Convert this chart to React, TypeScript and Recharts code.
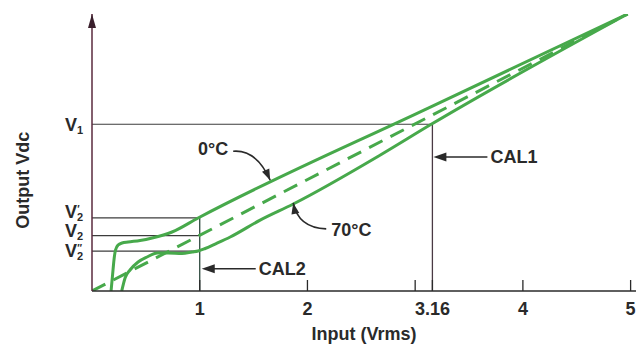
import React from 'react'
import { LineChart, Line, XAxis, YAxis, ReferenceLine, ReferenceDot } from 'recharts'

// input (Vrms) ticks along the bottom
const xTicks = [1, 2, 3, 3.16, 4, 5]
const xTickLabels = ['1', '2', '', '3.16', '4', '5']

// output levels marked on the vertical axis
const V1 = 3.01
const V2p = 1.32
const V2 = 1.0
const V2pp = 0.72
const yTicks = [V2pp, V2, V2p, V1]
const yTickSubs = ['2', '2', '2', '1']
const yTickPrimes = ['″', '', '′', '']
const yTickNudge = [6, 1, 0, 7]

// 0°C response
const coldX = [0.177, 0.191, 0.204, 0.218, 0.242, 0.279, 0.335, 0.446, 0.558, 0.743, 0.985, 3.141, 4.972]
const coldY = [0, 0.29, 0.56, 0.74, 0.83, 0.866, 0.884, 0.912, 0.957, 1.065, 1.318, 3.32, 5.0]

// 70°C response
const hotX = [0.276, 0.307, 0.353, 0.428, 0.511, 0.604, 0.706, 0.836, 0.929, 0.985, 1.05, 1.143, 1.283, 1.561, 1.868, 2.677, 3.141, 4.972]
const hotY = [0, 0.235, 0.379, 0.523, 0.614, 0.686, 0.686, 0.677, 0.704, 0.722, 0.767, 0.848, 0.975, 1.28, 1.57, 2.455, 3.0, 5.0]

// ideal response
const idealX = [0, 4.972]
const idealY = [0, 5.0]

const cold = coldX.map((x, i) => ({ x, y: coldY[i] }))
const hot = hotX.map((x, i) => ({ x, y: hotY[i] }))
const ideal = idealX.map((x, i) => ({ x, y: idealY[i] }))

const green = '#47a94b'
const ink = '#2a2a2a'
const font = "'Liberation Sans', Arial, Helvetica, sans-serif"

function head(tx: number, ty: number, fx: number, fy: number, len = 11, w = 4) {
  const dx = tx - fx
  const dy = ty - fy
  const d = Math.hypot(dx, dy) || 1
  const ux = dx / d
  const uy = dy / d
  const bx = tx - ux * len
  const by = ty - uy * len
  return `M${tx},${ty} L${bx - uy * w},${by + ux * w} L${bx + uy * w},${by - ux * w} Z`
}

const XTick = (props: any) => {
  const { x, y, payload } = props
  const i = xTicks.indexOf(payload.value)
  return (
    <g>
      <line x1={x} x2={x} y1={y - 11} y2={y} stroke={ink} strokeWidth={1.3} />
      <text x={x} y={y + 24} textAnchor="middle" fontSize={18} fontWeight={700} fontFamily={font} fill={ink}>
        {xTickLabels[i]}
      </text>
    </g>
  )
}

const YTick = (props: any) => {
  const { x, y, payload } = props
  const i = yTicks.indexOf(payload.value)
  const prime = yTickPrimes[i]
  return (
    <text x={x - 27} y={y + yTickNudge[i]} fontSize={18} fontWeight={700} fontFamily={font} fill={ink}>
      V
      <tspan fontSize={11} dy={3}>{yTickSubs[i]}</tspan>
      {prime ? <tspan fontSize={10} dx={-6} dy={-8}>{prime}</tspan> : null}
    </text>
  )
}

const xTitle = (p: any) => {
  const vb = p.viewBox ?? p
  return (
    <text x={vb.x + vb.width / 2} y={vb.y + 49} textAnchor="middle" fontSize={18} fontWeight={700} fontFamily={font} fill={ink}>
      Input (Vrms)
    </text>
  )
}

const yTitle = (p: any) => {
  const vb = p.viewBox ?? p
  const cx = vb.x + 29
  const cy = vb.y + vb.height * 0.6
  return (
    <text x={cx} y={cy} transform={`rotate(-90, ${cx}, ${cy})`} textAnchor="middle" fontSize={18} fontWeight={700} fontFamily={font} fill={ink}>
      Output Vdc
    </text>
  )
}

const axisArrow = ({ cx, cy }: any) => (
  <path d={head(cx, cy, cx, cy + 20, 14, 4)} fill="#3a1f2c" />
)

const coldNote = ({ cx, cy }: any) => {
  const sx = cx - 37
  const sy = cy - 29
  const qx = cx - 14
  const qy = cy - 31
  return (
    <g>
      <path d={`M${sx},${sy} Q${qx},${qy} ${cx},${cy}`} fill="none" stroke={ink} strokeWidth={1.6} />
      <path d={head(cx, cy, qx, qy)} fill={ink} />
      <text x={cx - 42} y={cy - 25} textAnchor="end" fontSize={18} fontWeight={700} fontFamily={font} fill={ink}>0°C</text>
    </g>
  )
}

const hotNote = ({ cx, cy }: any) => {
  const sx = cx + 33
  const sy = cy + 26
  const qx = cx + 5
  const qy = cy + 25
  return (
    <g>
      <path d={`M${sx},${sy} Q${qx},${qy} ${cx},${cy}`} fill="none" stroke={ink} strokeWidth={1.6} />
      <path d={head(cx, cy, qx, qy)} fill={ink} />
      <text x={cx + 38} y={cy + 33} fontSize={18} fontWeight={700} fontFamily={font} fill={ink}>70°C</text>
    </g>
  )
}

const calNote = (label: string, gap: number) => ({ cx, cy }: any) => (
  <g>
    <line x1={cx + gap + 8} x2={cx + gap + 54} y1={cy} y2={cy} stroke={ink} strokeWidth={1.5} />
    <path d={head(cx + gap, cy, cx + gap + 20, cy, 13, 4.5)} fill={ink} />
    <text x={cx + gap + 57} y={cy + 6.5} fontSize={18} fontWeight={700} fontFamily={font} fill={ink}>{label}</text>
  </g>
)

export default function App() {
  return (
    <div style={{ position: 'absolute', left: 0, top: 0, background: '#fff' }}>
      <LineChart width={636} height={345} margin={{ top: 14, right: 0, bottom: 0, left: 0 }}>
        <XAxis
          type="number"
          dataKey="x"
          domain={[0, 5.05]}
          ticks={xTicks}
          interval={0}
          tick={XTick}
          tickLine={false}
          tickSize={0}
          tickMargin={0}
          height={54}
          axisLine={{ stroke: ink, strokeWidth: 1.5 }}
          label={xTitle}
          allowDataOverflow
        />
        <YAxis
          type="number"
          dataKey="y"
          domain={[0, 5]}
          ticks={yTicks}
          interval={0}
          tick={YTick}
          tickLine={false}
          tickSize={0}
          tickMargin={0}
          width={92}
          axisLine={{ stroke: '#5a2a3e', strokeWidth: 1.5 }}
          label={yTitle}
          allowDataOverflow
        />

        <ReferenceLine segment={[{ x: 0, y: V1 }, { x: 3.16, y: V1 }]} stroke="#3c3c3c" strokeWidth={1.2} />
        <ReferenceLine segment={[{ x: 3.16, y: 0 }, { x: 3.16, y: V1 }]} stroke="#4a3a44" strokeWidth={1.3} />
        <ReferenceLine segment={[{ x: 0, y: V2p }, { x: 1, y: V2p }]} stroke="#3c3c3c" strokeWidth={1.2} />
        <ReferenceLine segment={[{ x: 0, y: V2 }, { x: 1, y: V2 }]} stroke="#3c3c3c" strokeWidth={1.2} />
        <ReferenceLine segment={[{ x: 0, y: V2pp }, { x: 1, y: V2pp }]} stroke="#3c3c3c" strokeWidth={1.2} />
        <ReferenceLine segment={[{ x: 1, y: 0 }, { x: 1, y: V2p }]} stroke="#2f4a3e" strokeWidth={1.3} />

        <Line data={ideal} dataKey="y" type="linear" stroke={green} strokeWidth={3} strokeDasharray="15 9" dot={false} activeDot={false} isAnimationActive={false} />
        <Line data={cold} dataKey="y" type="monotone" stroke={green} strokeWidth={3} dot={false} activeDot={false} isAnimationActive={false} />
        <Line data={hot} dataKey="y" type="monotone" stroke={green} strokeWidth={3} dot={false} activeDot={false} isAnimationActive={false} />

        <ReferenceDot x={0} y={5} r={1} shape={axisArrow} />
        <ReferenceDot x={1.654} y={2.0} r={1} shape={coldNote} />
        <ReferenceDot x={1.868} y={1.59} r={1} shape={hotNote} />
        <ReferenceDot x={3.16} y={2.42} r={1} shape={calNote('CAL1', 1)} />
        <ReferenceDot x={1} y={0.4} r={1} shape={calNote('CAL2', 2)} />
      </LineChart>
    </div>
  )
}
